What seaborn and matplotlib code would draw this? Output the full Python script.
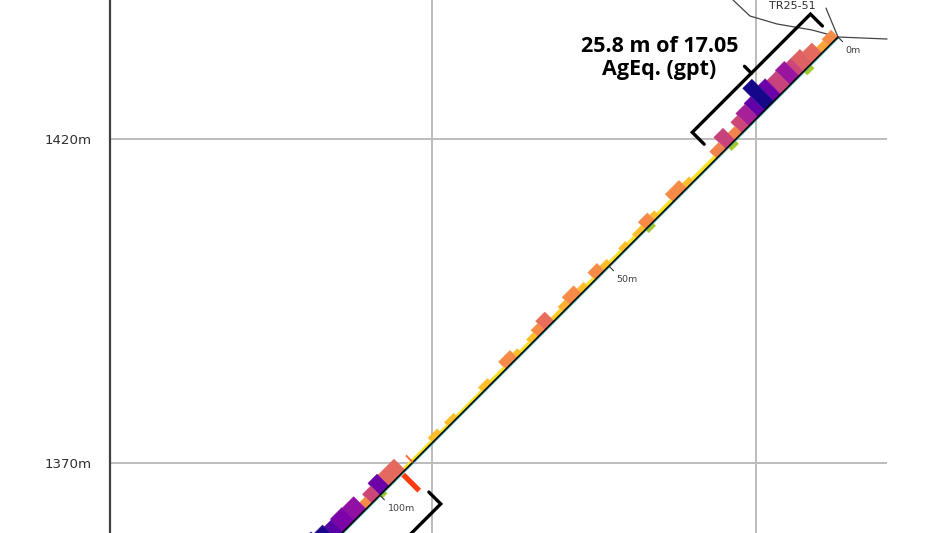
import numpy as np
import matplotlib
matplotlib.use("Agg")
import matplotlib.pyplot as plt
from matplotlib.transforms import Affine2D
from matplotlib.colors import LogNorm
import seaborn as sns

# ---------------- data ----------------
hole_id = "TR25-51"
collar_e = 62.65          # easting (m, local section grid)
collar_z = 1435.74        # elevation (m)
dip_deg = 45.0
hole_len = 140.0
depth_marks = [0, 50, 100]

# assay intervals along hole (m), AgEq grade (g/t) and histogram bar length (m)
iv_from = [0.0, 2.0, 3.5, 5.5, 7.5, 8.5, 10.5, 12.5, 14.0, 16.0, 17.5, 19.5, 21.0, 22.5, 24.5,
           26.5, 31.5, 33.0, 36.0, 39.0, 40.0, 42.0, 44.0, 45.5, 47.0, 49.5, 51.0, 53.0, 54.5,
           56.0, 58.5, 60.0, 62.0, 64.0, 65.5, 67.0, 69.0, 70.0, 72.5, 75.5, 77.5, 83.0, 85.0,
           86.5, 88.5,
           94.5, 98.0, 100.0, 101.8, 103.0, 105.5, 108.0, 109.5, 111.5, 114.0]
iv_to = [2.0, 3.5, 5.5, 7.5, 8.5, 10.5, 12.5, 14.0, 16.0, 17.5, 19.5, 21.0, 22.5, 24.5, 26.5,
         31.5, 33.0, 36.0, 39.0, 40.0, 42.0, 44.0, 45.5, 47.0, 49.5, 51.0, 53.0, 54.5, 56.0,
         58.5, 60.0, 62.0, 64.0, 65.5, 67.0, 69.0, 70.0, 72.5, 75.5, 77.5, 83.0, 85.0, 86.5,
         88.5, 94.5,
         98.0, 100.0, 101.8, 103.0, 105.5, 108.0, 109.5, 111.5, 114.0, 118.0]
ageq = [6, 4.5, 9, 10, 14, 28, 15, 45, 95, 50, 24, 14, 6.5, 15, 6.5,
        2.5, 3.5, 6, 2.5, 3.5, 6, 3.5, 2.5, 3.5, 2.5, 3.5, 6, 2.5, 3.5,
        6, 4, 3, 8.5, 6, 3.5, 2.5, 3.5, 6, 2.5, 3.5, 2.5, 3.5, 2.5,
        3.5, 2.5,
        9, 45, 14, 6, 30, 38, 55, 90, 85, 50]
bar_len = [1.5, 1.2, 2.2, 2.8, 2.8, 3.2, 3.0, 3.4, 4.8, 3.0, 2.8, 2.4, 1.5, 2.6, 1.5,
           0.6, 1.0, 1.7, 0.6, 1.1, 1.6, 0.9, 0.6, 0.9, 0.55, 1.0, 1.6, 0.55, 1.0,
           1.7, 1.1, 0.7, 2.0, 1.5, 1.0, 0.55, 1.0, 1.6, 0.55, 1.0, 0.45, 0.9, 0.45,
           1.0, 0.45,
           2.4, 2.6, 2.0, 1.4, 2.7, 2.8, 2.6, 3.0, 3.5, 2.8]

# secondary log (drawn on the other side of the trace)
side_from = [6.0, 22.5, 40.5, 99.0]
side_to = [7.5, 24.0, 42.0, 100.0]
side_len = [0.8, 0.8, 0.7, 0.6]

# reported intercepts (m along hole)
intercept_from = [0.5, 94.3]
intercept_to = [26.3, 140.0]
intercept_side = [1, -1]
intercept_label = "25.8 m of 17.05\nAgEq. (gpt)"

# structures crossing the hole
struct_depth = [92.8, 95.2]
struct_h0 = [0.0, -0.3]
struct_h1 = [1.5, -3.8]
struct_color = ["#ff6a3a", "#ff3a10"]
struct_lw = [1.4, 3.8]

# topography profile
topo_e = [46.45, 49.07, 53.24, 58.64, 62.65, 70.22]
topo_z = [1441.45, 1438.98, 1437.75, 1436.82, 1435.74, 1435.43]

elev_ticks = [1370, 1420]
east_grid = [0, 50]
section_e = [-49.7, 70.2]

# ---------------- plot ----------------
sns.set_style("white")
plt.rcParams["font.family"] = ["DejaVu Sans"]

fig = plt.figure(figsize=(9.5, 5.33), dpi=100)
ax = fig.add_axes([110 / 950, 0, 840 / 950, 1])
ax.set_xlim(-49.7, 79.94)
ax.set_ylim(1359.20, 1441.45)
ax.set_autoscale_on(False)

# grid
ax.set_xticks(east_grid)
ax.set_yticks(elev_ticks)
ax.set_yticklabels([f"{v}m" for v in elev_ticks])
ax.xaxis.grid(True, color="#bcbcbc", lw=1.4)
ax.tick_params(axis="x", length=0, labelbottom=False)
ax.tick_params(axis="y", length=9.4, width=1.6, color="#555555", pad=3.5,
               labelsize=9.6, labelcolor="#303030")
ax.hlines(elev_ticks, section_e[0], section_e[1], color="#bcbcbc", lw=1.4, zorder=0.5)
for s in ["top", "right", "bottom"]:
    ax.spines[s].set_visible(False)
ax.spines["left"].set_color("#404040")
ax.spines["left"].set_linewidth(1.6)

# hole coordinate system: (depth along hole, perpendicular offset) -> (E, Z)
d = np.radians(dip_deg)
ux, uy = -np.cos(d), -np.sin(d)
nx, ny = -np.sin(d), np.cos(d)
hole_tf = Affine2D(np.array([[ux, nx, collar_e], [uy, ny, collar_z], [0, 0, 1]])) + ax.transData

cmap = sns.color_palette("plasma_r", as_cmap=True)
norm = LogNorm(vmin=2, vmax=100)

f = np.array(iv_from)
t = np.array(iv_to)
cols = [cmap(norm(g)) for g in ageq]
ax.bar((f + t) / 2, bar_len, width=t - f, color=cols, edgecolor=cols, linewidth=0.3,
       transform=hole_tf, zorder=2)

sf = np.array(side_from)
st = np.array(side_to)
ax.bar((sf + st) / 2, -np.array(side_len), width=st - sf, color="#a6c82a",
       edgecolor="#a6c82a", linewidth=0.3, transform=hole_tf, zorder=2)

# trace (with thin teal log strip beside it)
sns.lineplot(x=[0, hole_len], y=[-0.15, -0.15], ax=ax, color="#2aa6a0", lw=0.8,
             transform=hole_tf, zorder=2.5, legend=False)
sns.lineplot(x=[0, hole_len], y=[0, 0], ax=ax, color="black", lw=1.1,
             transform=hole_tf, zorder=3, legend=False)

# depth ticks
for m in depth_marks:
    ax.plot([m, m], [0, -1.0], color="#333333", lw=0.8, transform=hole_tf, zorder=3)
    ax.text(m + 0.6, -2.3, f"{m}m", transform=hole_tf, fontsize=6.8, color="#404040",
            ha="left", va="center")

# structures
for sd, h0, h1, c, lw in zip(struct_depth, struct_h0, struct_h1, struct_color, struct_lw):
    ax.plot([sd, sd], [h0, h1], color=c, lw=lw, transform=hole_tf, zorder=3,
            solid_capstyle="butt")

# intercept brackets
for a, b, side in zip(intercept_from, intercept_to, intercept_side):
    off = 5.5 if side > 0 else -7.6
    hook = 2.6 * side
    ax.plot([a, a, b, b], [off - hook, off, off, off - hook], color="black", lw=2.4,
            transform=hole_tf, zorder=4, solid_joinstyle="miter")
    if side > 0:
        mid = (a + b) / 2
        ax.plot([mid, mid], [off, off + 1.5], color="black", lw=2.4,
                transform=hole_tf, zorder=4)

ax.text(35.1, 1432.55, intercept_label, ha="center", va="center", multialignment="center",
        fontsize=15.5, fontweight="bold", family=["Open Sans", "DejaVu Sans"], color="black",
        linespacing=1.12, zorder=5)

# topography and hole label
ax.plot(topo_e, topo_z, color="#444444", lw=0.9, zorder=1.5)
ax.plot([60.8, collar_e], [1440.2, collar_z], color="#444444", lw=0.9, zorder=1.5)
ax.text(55.56, 1440.05, hole_id, ha="center", va="baseline", fontsize=8, color="#303030")

fig.savefig("out.png", dpi=100)
